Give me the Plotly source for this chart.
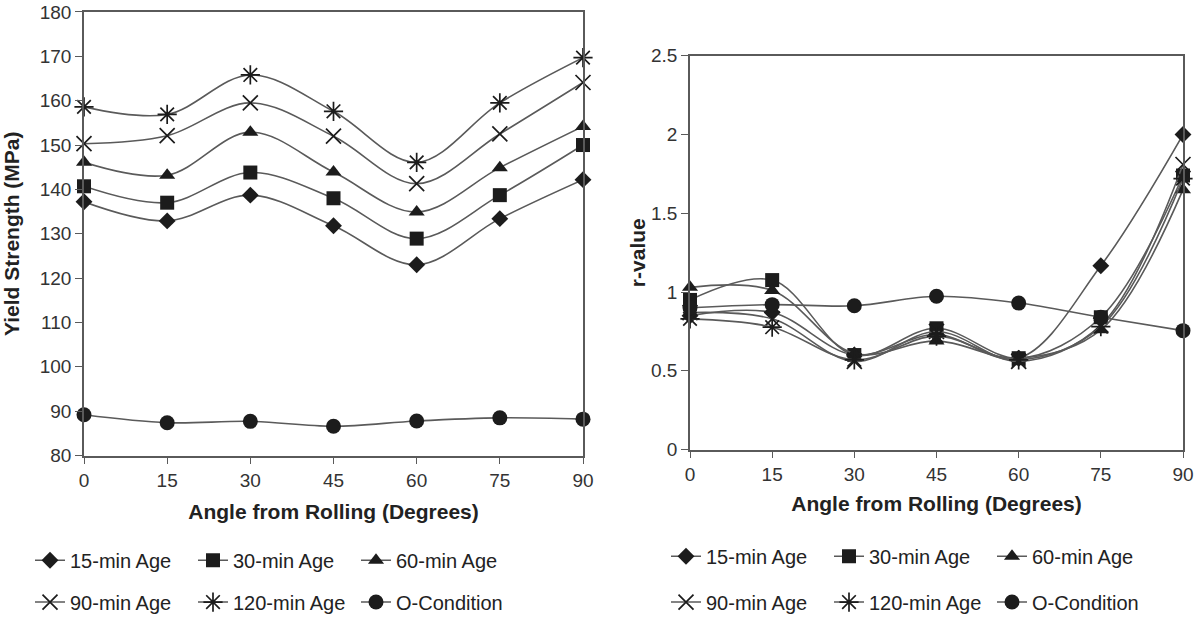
import plotly.graph_objects as go

angles = [0, 15, 30, 45, 60, 75, 90]
series_names = ["15-min Age", "30-min Age", "60-min Age", "90-min Age", "120-min Age", "O-Condition"]

# Yield strength (MPa)
ys_15 = [137.2, 132.9, 138.7, 131.8, 123.0, 133.4, 142.2]
ys_30 = [140.7, 137.0, 143.8, 138.0, 128.9, 138.7, 150.0]
ys_60 = [146.1, 143.2, 152.9, 143.9, 134.9, 144.9, 154.2]
ys_90 = [150.3, 152.1, 159.5, 152.0, 141.3, 152.5, 164.1]
ys_120 = [158.6, 156.9, 165.8, 157.6, 146.1, 159.5, 169.7]
ys_o = [89.2, 87.4, 87.7, 86.6, 87.8, 88.5, 88.2]

# r-value
r_15 = [0.85, 0.87, 0.60, 0.73, 0.58, 1.167, 2.00]
r_30 = [0.95, 1.076, 0.60, 0.77, 0.58, 0.84, 1.74]
r_60 = [1.03, 1.01, 0.61, 0.69, 0.58, 0.76, 1.65]
r_90 = [0.87, 0.83, 0.56, 0.75, 0.56, 0.79, 1.81]
r_120 = [0.83, 0.777, 0.57, 0.72, 0.57, 0.78, 1.72]
r_o = [0.90, 0.92, 0.913, 0.973, 0.93, 0.84, 0.755]

ys_data = [ys_15, ys_30, ys_60, ys_90, ys_120, ys_o]
r_data = [r_15, r_30, r_60, r_90, r_120, r_o]

symbols = ["diamond", "square", "triangle-up", "x-thin", "asterisk", "circle"]
sizes = [13, 14, 14, 15, 16, 15]
LINE = "#5a5a5a"
MARK = "#1c1c1c"
FONT = "Liberation Sans, Arial, sans-serif"

fig = go.Figure()

legends_left = ["legend", "legend", "legend", "legend2", "legend2", "legend2"]
legends_right = ["legend3", "legend3", "legend3", "legend4", "legend4", "legend4"]

def make_marker(i):
    line_only = symbols[i] in ("x-thin", "asterisk")
    return dict(symbol=symbols[i], size=sizes[i], color=MARK,
                line=dict(color=MARK, width=1.7 if line_only else 0))

for i, name in enumerate(series_names):
    fig.add_trace(go.Scatter(
        x=angles, y=ys_data[i], name=name, mode="lines+markers",
        line=dict(color=LINE, width=1.6, shape="spline", smoothing=1.0),
        marker=make_marker(i), cliponaxis=False, xaxis="x", yaxis="y",
        legend=legends_left[i]))
for i, name in enumerate(series_names):
    fig.add_trace(go.Scatter(
        x=angles, y=r_data[i], name=name, mode="lines+markers",
        line=dict(color=LINE, width=1.6, shape="spline", smoothing=1.0),
        marker=make_marker(i), cliponaxis=False, xaxis="x2", yaxis="y2",
        legend=legends_right[i]))

W, H = 1204, 622
def px_x(p):
    return p / W
def px_y(p):
    return 1 - p / H

axis_common = dict(
    showline=True, linecolor=LINE, linewidth=1.6, mirror=True,
    ticks="outside", ticklen=7, tickcolor=LINE, tickwidth=1.4,
    showgrid=False, zeroline=False, automargin=False,
    tickfont=dict(family=FONT, size=19, color="#333333"),
)
title_font = dict(family=FONT, size=21, color="#222222")

fig.update_layout(
    width=W, height=H,
    margin=dict(l=0, r=0, t=0, b=0),
    paper_bgcolor="white", plot_bgcolor="white",
    font=dict(family=FONT, size=19, color="#222222"),
    xaxis=dict(domain=[px_x(84), px_x(583)], range=[0, 90], tickvals=angles,
               anchor="y", title=dict(text="<b>Angle from Rolling (Degrees)</b>", font=title_font, standoff=14),
               **axis_common),
    yaxis=dict(domain=[px_y(457), px_y(12)], range=[80, 180], dtick=10,
               anchor="x", title=dict(text="<b>Yield Strength (MPa)</b>", font=title_font, standoff=14),
               **axis_common),
    xaxis2=dict(domain=[px_x(690), px_x(1183)], range=[0, 90], tickvals=angles,
                anchor="y2", title=dict(text="<b>Angle from Rolling (Degrees)</b>", font=title_font, standoff=12),
                **axis_common),
    yaxis2=dict(domain=[px_y(451), px_y(56)], range=[0, 2.5], tickvals=[0, 0.5, 1, 1.5, 2, 2.5],
                ticktext=["0", "0.5", "1", "1.5", "2", "2.5"],
                anchor="x2", title=dict(text="<b>r-value</b>", font=title_font, standoff=0),
                **axis_common),
)

leg_common = dict(orientation="h", xanchor="left", yanchor="middle",
                  bgcolor="rgba(0,0,0,0)", font=dict(family=FONT, size=20, color="#222222"),
                  entrywidth=118, entrywidthmode="pixels", itemwidth=30)
fig.update_layout(
    legend=dict(x=px_x(30), y=px_y(562), **leg_common),
    legend2=dict(x=px_x(30), y=px_y(604), **leg_common),
    legend3=dict(x=px_x(666), y=px_y(558), **leg_common),
    legend4=dict(x=px_x(666), y=px_y(604), **leg_common),
)

fig.write_html("out.html")
